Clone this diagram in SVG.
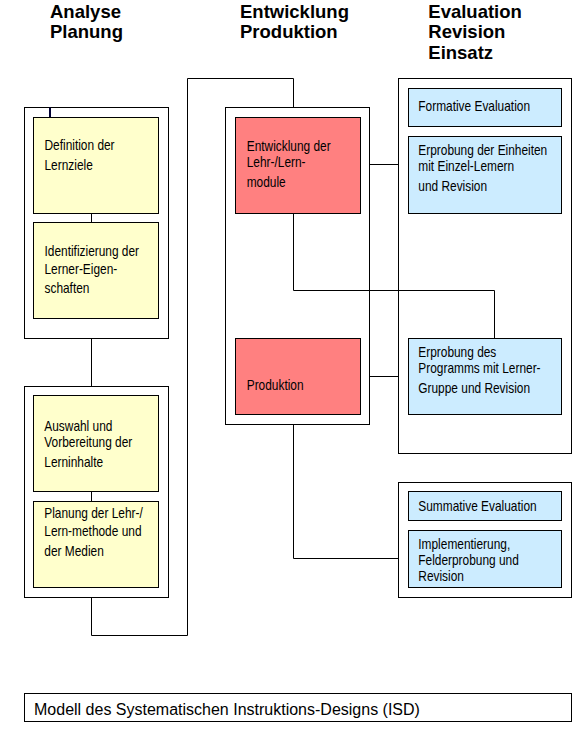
<svg xmlns="http://www.w3.org/2000/svg" width="585" height="743" viewBox="0 0 585 743">
<style>
.bg{fill:#ffffff}
.grp{fill:#ffffff;stroke:#000000;stroke-width:1}
.y{fill:#ffffcc;stroke:#000000;stroke-width:1}
.r{fill:#ff8080;stroke:#000000;stroke-width:1}
.b{fill:#ccecff;stroke:#000000;stroke-width:1}
.c{fill:none;stroke:#000000;stroke-width:1}
.h{font-family:"Liberation Sans",Arial,sans-serif;font-size:18.5px;font-weight:bold;fill:#000000}
.t{font-family:"Liberation Sans",Arial,sans-serif;font-size:14px;fill:#000000}
.cap{font-family:"Liberation Sans",Arial,sans-serif;font-size:16px;fill:#000000}
</style>
<rect class="bg" x="0" y="0" width="585" height="743"/>

<g id="headings">
<text class="h" x="50" y="17.5">Analyse</text>
<text class="h" x="50" y="37.5">Planung</text>
<text class="h" x="240" y="17.5">Entwicklung</text>
<text class="h" x="240" y="37.5">Produktion</text>
<text class="h" x="428.3" y="17.5">Evaluation</text>
<text class="h" x="428.3" y="38">Revision</text>
<text class="h" x="428.3" y="58.5">Einsatz</text>
</g>

<g id="group-analyse-1"><rect class="grp" x="24.5" y="107.5" width="144" height="231"/></g>
<g id="group-analyse-2"><rect class="grp" x="24.5" y="386.5" width="144" height="211"/></g>
<g id="group-entwicklung"><rect class="grp" x="225.5" y="107.5" width="144" height="317"/></g>
<g id="group-evaluation-1"><rect class="grp" x="398.5" y="78.5" width="173" height="375"/></g>
<g id="group-evaluation-2"><rect class="grp" x="398.5" y="482.5" width="173" height="115"/></g>

<g id="connectors">
<path class="c" d="M91.5 213.5V222.5"/>
<path class="c" d="M91.5 338.5V386.5"/>
<path class="c" d="M91.5 491.5V501.5"/>
<path class="c" d="M91.5 597.5V635.5H187.5V78.5H293.5V107.5"/>
<path class="c" d="M293.5 213.5V290.5H494.5V338.5"/>
<path class="c" d="M369.5 164.5H398.5"/>
<path class="c" d="M369.5 376.5H398.5"/>
<path class="c" d="M293.5 424.5V558.5H398.5"/>
<path d="M50 107.5V128" fill="none" stroke="#000033" stroke-width="2"/>
</g>

<g id="node-lernziele">
<rect class="y" x="33.5" y="117.5" width="125" height="96"/>
<text class="t" transform="translate(44.5 150) scale(0.85 1)">Definition der</text>
<text class="t" transform="translate(44.5 170) scale(0.85 1)">Lernziele</text>
</g>
<g id="node-lerner">
<rect class="y" x="33.5" y="222.5" width="125" height="96"/>
<text class="t" transform="translate(44.5 256) scale(0.85 1)">Identifizierung der</text>
<text class="t" transform="translate(44.5 274) scale(0.85 1)">Lerner-Eigen-</text>
<text class="t" transform="translate(44.5 293) scale(0.85 1)">schaften</text>
</g>
<g id="node-lerninhalte">
<rect class="y" x="33.5" y="395.5" width="125" height="96"/>
<text class="t" transform="translate(44.3 430.7) scale(0.85 1)">Auswahl und</text>
<text class="t" transform="translate(44.3 447.3) scale(0.85 1)">Vorbereitung der</text>
<text class="t" transform="translate(44.3 466.7) scale(0.85 1)">Lerninhalte</text>
</g>
<g id="node-methode">
<rect class="y" x="33.5" y="501.5" width="125" height="86"/>
<text class="t" transform="translate(44.3 518.3) scale(0.85 1)">Planung der Lehr-/</text>
<text class="t" transform="translate(44.3 535.7) scale(0.85 1)">Lern-methode und</text>
<text class="t" transform="translate(44.3 555.7) scale(0.85 1)">der Medien</text>
</g>

<g id="node-entwicklung">
<rect class="r" x="235.5" y="117.5" width="125" height="96"/>
<text class="t" transform="translate(246.7 150.5) scale(0.85 1)">Entwicklung der</text>
<text class="t" transform="translate(246.7 166.7) scale(0.85 1)">Lehr-/Lern-</text>
<text class="t" transform="translate(246.7 186.7) scale(0.85 1)">module</text>
</g>
<g id="node-produktion">
<rect class="r" x="235.5" y="338.5" width="125" height="76"/>
<text class="t" transform="translate(246.7 390) scale(0.85 1)">Produktion</text>
</g>

<g id="node-formative">
<rect class="b" x="408.5" y="88.5" width="153" height="38"/>
<text class="t" transform="translate(418.3 110.5) scale(0.85 1)">Formative Evaluation</text>
</g>
<g id="node-einzel">
<rect class="b" x="408.5" y="136.5" width="153" height="77"/>
<text class="t" transform="translate(418.3 154.5) scale(0.85 1)">Erprobung der Einheiten</text>
<text class="t" transform="translate(418.3 171) scale(0.85 1)">mit Einzel-Lemern</text>
<text class="t" transform="translate(418.3 191) scale(0.85 1)">und Revision</text>
</g>
<g id="node-gruppe">
<rect class="b" x="408.5" y="338.5" width="153" height="76"/>
<text class="t" transform="translate(418.3 356.5) scale(0.85 1)">Erprobung des</text>
<text class="t" transform="translate(418.3 373) scale(0.85 1)">Programms mit Lerner-</text>
<text class="t" transform="translate(418.3 393) scale(0.85 1)">Gruppe und Revision</text>
</g>
<g id="node-summative">
<rect class="b" x="408.5" y="491.5" width="153" height="29"/>
<text class="t" transform="translate(418.3 510.5) scale(0.85 1)">Summative Evaluation</text>
</g>
<g id="node-implementierung">
<rect class="b" x="408.5" y="530.5" width="153" height="57"/>
<text class="t" transform="translate(418.3 548.5) scale(0.85 1)">Implementierung,</text>
<text class="t" transform="translate(418.3 565) scale(0.85 1)">Felderprobung und</text>
<text class="t" transform="translate(418.3 581) scale(0.85 1)">Revision</text>
</g>

<g id="caption">
<rect class="grp" x="24.5" y="693.5" width="547" height="28"/>
<text class="cap" x="34" y="715">Modell des Systematischen Instruktions-Designs (ISD)</text>
</g>
</svg>
